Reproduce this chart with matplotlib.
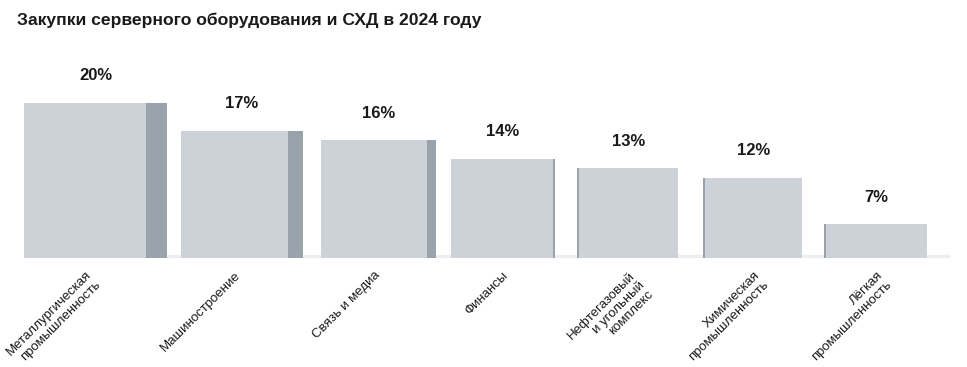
import numpy as np
import matplotlib.pyplot as plt

plt.rcParams["font.family"] = ["Liberation Sans", "DejaVu Sans"]

# ====================== данные ======================
title = "Закупки серверного оборудования и СХД в 2024 году"
categories = [
    "Металлургическая\nпромышленность",
    "Машиностроение",
    "Связь и медиа",
    "Финансы",
    "Нефтегазовый\nи угольный\nкомплекс",
    "Химическая\nпромышленность",
    "Лёгкая\nпромышленность",
]
shares = [20, 17, 16, 14, 13, 12, 7]

# ====================== оформление (px) ======================
front_w = np.array([122, 107, 106, 102, 99, 97, 101])
side_w = np.array([21, 15, 9, 2, 0, 0, 0])
edge_w = np.array([0, 0, 0, 0, 2, 2, 2])
gap_w = [14, 18, 15, 24, 27, 24]
x_start = 24
FRONT = "#cdd2d8"
SIDE = "#9aa2ab"

lefts = [x_start]
for i in range(1, len(shares)):
    lefts.append(lefts[-1] + front_w[i - 1] + side_w[i - 1] + gap_w[i - 1])
lefts = np.array(lefts, dtype=float)
centers = lefts + front_w / 2
label_x = lefts + (front_w + side_w) / 2

fig = plt.figure(figsize=(9.67, 3.67), dpi=100)
ax = fig.add_axes([0, 109 / 367, 1, 218 / 367])
ax.set_xlim(0, 967)
y0 = 3.4
ax.set_ylim(y0, y0 + 218 / 9.34)

# лёгкая тень на полу
ax.axhline(y0 + 0.15, xmin=0.03, xmax=0.98, color="#eceef0", lw=3, zorder=0)

ax.bar(lefts, shares, width=front_w, align="edge", color=FRONT, zorder=2)
ax.bar(lefts + front_w, shares, width=side_w, align="edge", color=SIDE, zorder=2)
ax.bar(lefts - edge_w, shares, width=edge_w, align="edge", color=SIDE, zorder=2)

for x, v in zip(label_x, shares):
    ax.annotate(f"{v}%", (x, v), xytext=(0, 27), textcoords="offset pixels",
                ha="center", va="center", fontsize=12, fontweight="bold", color="#1a1a1a")

ax.set_xticks(centers)
ax.set_xticklabels(categories, rotation=45, ha="right", rotation_mode="anchor",
                   fontsize=9.5, color="#1a1a1a", linespacing=1.1)
ax.tick_params(axis="x", length=0, pad=8)
ax.set_yticks([])
for s in ax.spines.values():
    s.set_visible(False)

fig.text(17 / 967, 1 - 20 / 367, title, fontsize=12.6, fontweight="bold",
         va="center", ha="left", color="#1a1a1a")

fig.savefig("out.png", dpi=100)
